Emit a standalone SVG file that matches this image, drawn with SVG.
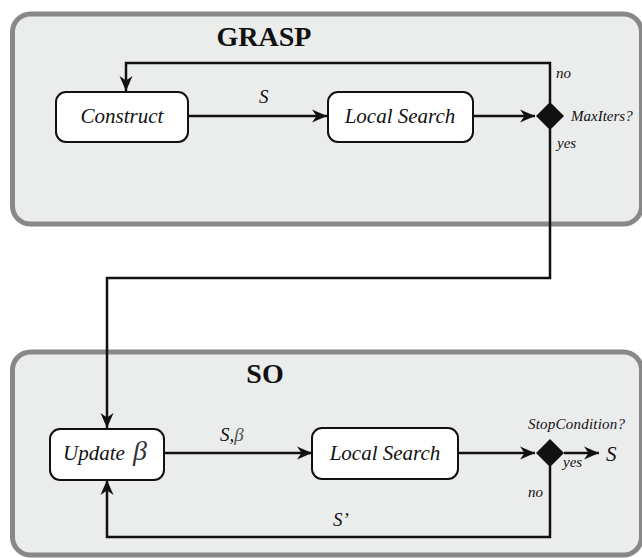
<svg xmlns="http://www.w3.org/2000/svg" width="642" height="558" viewBox="0 0 642 558">
<defs>
<marker id="ah" viewBox="-16 -8 17 16" refX="0" refY="0" markerWidth="17" markerHeight="16" markerUnits="userSpaceOnUse" orient="auto">
<path d="M0,0 L-15,-6.5 L-10.5,0 L-15,6.5 Z" fill="#111"/>
</marker>
</defs>
<style>
.panel{fill:#ebecec;stroke:#888;stroke-width:5}
.box{fill:#fff;stroke:#111;stroke-width:2}
.title{font-family:"Liberation Serif",serif;font-weight:bold;font-size:28px;fill:#111;text-anchor:middle}
.lbl{font-family:"Liberation Serif",serif;font-style:italic;font-size:21px;fill:#111}
.sm{font-family:"Liberation Serif",serif;font-style:italic;font-size:15px;fill:#111}
.md{font-family:"Liberation Serif",serif;font-style:italic;font-size:19px;fill:#111}
.conn{fill:none;stroke:#111;stroke-width:2.5}
.dia{fill:#111}
</style>
<rect width="642" height="558" fill="#fff"/>
<g id="panel-grasp">
<rect class="panel" x="12.5" y="14" width="629" height="210" rx="18"/>
<text class="title" x="264" y="46">GRASP</text>
</g>
<g id="panel-so">
<rect class="panel" x="12.5" y="352" width="629" height="203" rx="18"/>
<text class="title" x="265" y="383">SO</text>
</g>
<g id="connectors">
<path class="conn" d="M188,116 H327" marker-end="url(#ah)"/>
<path class="conn" d="M473,116 H535" marker-end="url(#ah)"/>
<path class="conn" d="M550,103 V63 H126 V91" marker-end="url(#ah)"/>
<path class="conn" d="M550,129 V278 H107 V428" marker-end="url(#ah)"/>
<path class="conn" d="M164,453 H312" marker-end="url(#ah)"/>
<path class="conn" d="M458,453 H535" marker-end="url(#ah)"/>
<path class="conn" d="M564,453 H599" marker-end="url(#ah)"/>
<path class="conn" d="M550,466 V537 H107 V480" marker-end="url(#ah)"/>
<text class="md" x="259" y="103">S</text>
<text class="sm" x="556" y="78">no</text>
<text class="sm" x="557" y="148">yes</text>
<text class="md" x="220" y="441">S,<tspan fill="#555">β</tspan></text>
<text class="md" x="333" y="526">S’</text>
<text class="sm" x="563" y="467">yes</text>
<text class="sm" x="528" y="497">no</text>
<text class="lbl" x="606" y="461" font-size="22px">S</text>
</g>
<g id="construct">
<rect class="box" x="56" y="92" width="132" height="50" rx="10"/>
<text class="lbl" x="122" y="123" text-anchor="middle">Construct</text>
</g>
<g id="local-search-1">
<rect class="box" x="328" y="92" width="145" height="50" rx="10"/>
<text class="lbl" x="400" y="123" text-anchor="middle">Local Search</text>
</g>
<g id="maxiters">
<polygon class="dia" points="550,102 564,116 550,130 536,116"/>
<text class="sm" x="571" y="121">MaxIters?</text>
</g>
<g id="update-beta">
<rect class="box" x="50" y="429" width="114" height="51" rx="10"/>
<text class="lbl" x="63" y="460">Update <tspan font-size="28px" fill="#333" dx="3">β</tspan></text>
</g>
<g id="local-search-2">
<rect class="box" x="312" y="428" width="146" height="51" rx="10"/>
<text class="lbl" x="385" y="460" text-anchor="middle">Local Search</text>
</g>
<g id="stopcondition">
<polygon class="dia" points="550,439 564,453 550,467 536,453"/>
<text class="sm" x="528" y="429" textLength="97" lengthAdjust="spacing">StopCondition?</text>
</g>
</svg>
